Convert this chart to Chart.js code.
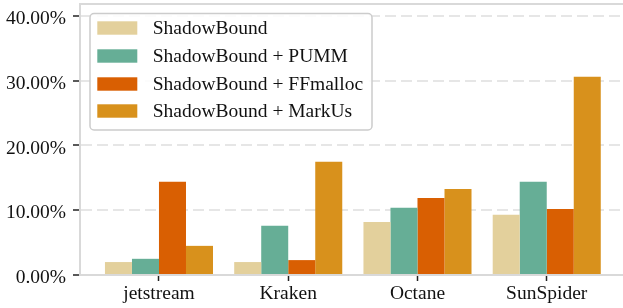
<!DOCTYPE html>
<html>
<head>
<meta charset="utf-8">
<script src="https://cdn.jsdelivr.net/npm/chart.js@4/dist/chart.umd.min.js"></script>
<style>
  html, body { margin: 0; padding: 0; background: #fff; }
  #wrap { width: 623px; height: 308px; }
</style>
</head>
<body>
<div id="wrap"><canvas id="c" width="623" height="308"></canvas></div>
<script>
const categories = ["jetstream", "Kraken", "Octane", "SunSpider"];
const seriesNames = ["ShadowBound", "ShadowBound + PUMM", "ShadowBound + FFmalloc", "ShadowBound + MarkUs"];
const shadowBound = [2.0, 2.0, 8.2, 9.3];
const pumm = [2.5, 7.6, 10.4, 14.4];
const ffmalloc = [14.4, 2.3, 11.9, 10.2];
const markus = [4.5, 17.5, 13.3, 30.6];
const yTicks = [0, 10, 20, 30, 40];
const colors = ["#E3D09C", "#66AE96", "#D95F02", "#D8911C"];

const seriesValues = [shadowBound, pumm, ffmalloc, markus];

Chart.defaults.font.family = "'Liberation Serif', 'Times New Roman', serif";
Chart.defaults.font.size = 19.5;
Chart.defaults.color = "#222";

const datasets = seriesNames.map((name, s) => ({
  label: name,
  data: seriesValues[s].map((v, i) => ({ x: i, y: v })),
  backgroundColor: colors[s],
  borderWidth: 0,
  barPercentage: 1.0,
  categoryPercentage: 0.836
}));

const frameAndLegend = {
  id: 'frameAndLegend',
  afterDraw(chart) {
    const ctx = chart.ctx;
    const a = chart.chartArea;
    ctx.save();
    ctx.strokeStyle = "#d9d9d9";
    ctx.lineWidth = 2;
    ctx.beginPath();
    ctx.moveTo(a.left - 1, a.top);
    ctx.lineTo(a.right, a.top);
    ctx.stroke();

    const bx = 90, by = 13.5, bw = 282, bh = 116.5, r = 4;
    ctx.beginPath();
    ctx.moveTo(bx + r, by);
    ctx.lineTo(bx + bw - r, by);
    ctx.arcTo(bx + bw, by, bx + bw, by + r, r);
    ctx.lineTo(bx + bw, by + bh - r);
    ctx.arcTo(bx + bw, by + bh, bx + bw - r, by + bh, r);
    ctx.lineTo(bx + r, by + bh);
    ctx.arcTo(bx, by + bh, bx, by + bh - r, r);
    ctx.lineTo(bx, by + r);
    ctx.arcTo(bx, by, bx + r, by, r);
    ctx.closePath();
    ctx.fillStyle = "rgba(255,255,255,0.85)";
    ctx.fill();
    ctx.strokeStyle = "#cccccc";
    ctx.lineWidth = 1.5;
    ctx.stroke();

    const rows = [28, 56, 84, 111];
    ctx.font = "19.5px 'Liberation Serif', 'Times New Roman', serif";
    ctx.textBaseline = "middle";
    ctx.textAlign = "left";
    chart.data.datasets.forEach((ds, i) => {
      const cy = rows[i];
      ctx.fillStyle = ds.backgroundColor;
      ctx.fillRect(97.3, cy - 6.7, 40, 13.4);
      ctx.fillStyle = "#111";
      ctx.fillText(ds.label, 152.7, cy + 1);
    });
    ctx.restore();
  }
};

new Chart(document.getElementById('c'), {
  type: 'bar',
  data: { datasets },
  options: {
    responsive: false,
    animation: false,
    layout: { padding: { top: 4, right: 0, left: 0, bottom: 0 } },
    plugins: { legend: { display: false }, tooltip: { enabled: false } },
    scales: {
      x: {
        type: 'linear',
        offset: false,
        min: -0.611,
        max: 3.59,
        afterBuildTicks(scale) { scale.ticks = categories.map((c, i) => ({ value: i })); },
        afterFit(scale) { scale.height = 33; scale.paddingLeft = 0; scale.paddingRight = 0; },
        ticks: {
          callback: (v) => categories[v] ?? '',
          padding: 1,
          color: "#111",
          maxRotation: 0,
          autoSkip: false
        },
        grid: {
          display: true,
          offset: false,
          drawOnChartArea: false,
          drawTicks: true,
          tickLength: 6,
          tickColor: "#222",
          tickWidth: 1.5
        },
        border: { display: true, color: "#d9d9d9", width: 2 }
      },
      y: {
        min: 0,
        max: 41.85,
        afterBuildTicks(scale) { scale.ticks = yTicks.map(v => ({ value: v })); },
        afterFit(scale) { scale.width = 80; scale.paddingTop = 0; scale.paddingBottom = 0; },
        ticks: {
          callback: (v) => v.toFixed(2) + '%',
          padding: 7,
          color: "#111",
          labelOffset: 3
        },
        grid: {
          color: "#e6e6e6",
          lineWidth: 2,
          drawTicks: true,
          tickLength: 7,
          tickColor: "#222",
          tickWidth: 1.5,
          tickBorderDash: []
        },
        border: { display: true, color: "#d9d9d9", width: 2, dash: [11, 5] }
      }
    }
  },
  plugins: [frameAndLegend]
});
</script>
</body>
</html>
